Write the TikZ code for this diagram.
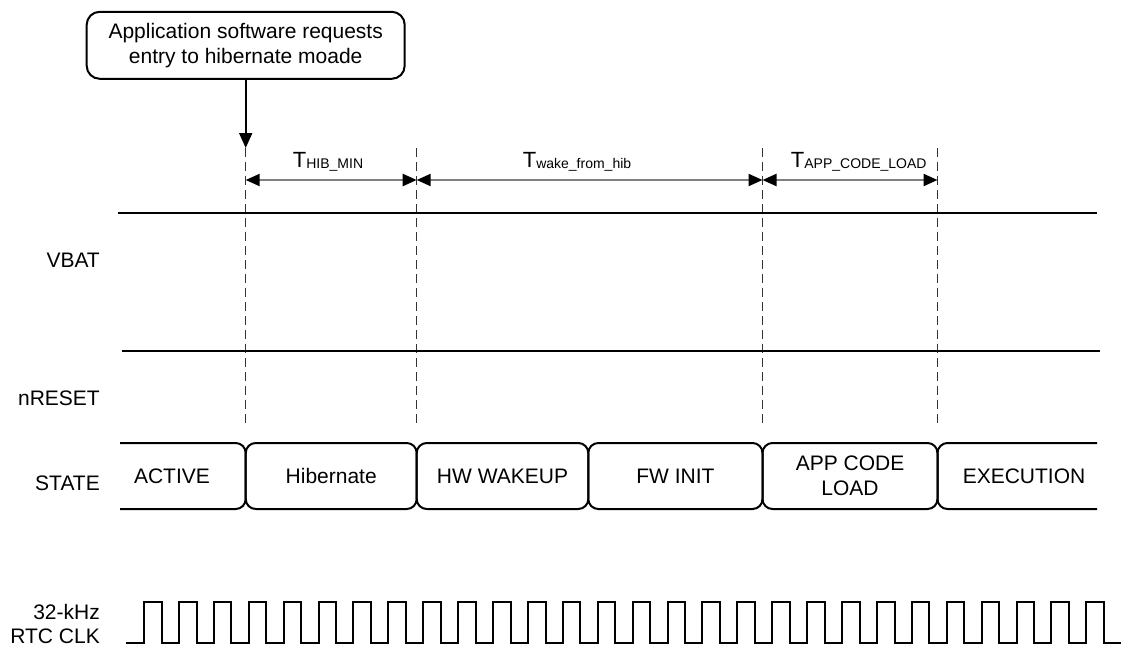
\documentclass[tikz,border=0pt]{standalone}
\usepackage{fontspec}
\setmainfont{Liberation Sans}
\usetikzlibrary{arrows.meta,positioning}

\newcommand{\tname}[1]{T\raisebox{-1.5pt}{\fontsize{14}{16}\selectfont #1}}

\begin{document}
\begin{tikzpicture}[x=1pt,y=-1pt,
  txt/.style={font={\fontsize{21}{25}\selectfont}, inner sep=0pt},
  tlabel/.style={font={\fontsize{22}{26}\selectfont}, inner sep=0pt, anchor=base},
  siglabel/.style={txt, anchor=east, align=right},
  sig/.style={line width=2pt},
  marker/.style={line width=1.3pt, black!80, dash pattern=on 9pt off 5pt},
  statebox/.style={txt, draw, line width=2pt, rounded corners=10pt, minimum height=66pt, outer sep=0pt},
  reqbox/.style={txt, draw, line width=2pt, rounded corners=13pt, minimum width=318pt, minimum height=67pt, align=center},
  dimarrow/.style={line width=2.2pt, gray, {Triangle[length=14pt,width=12pt,color=black]}-{Triangle[length=14pt,width=12pt,color=black]}},
  reqarrow/.style={line width=1.8pt, -{Triangle[length=15pt,width=13pt]}},
  ]
\useasboundingbox (0,0) rectangle (1123,648);

% request callout
\node[reqbox] (req) at (245.7,45.3) {Application software requests\\entry to hibernate moade};

% time markers
\foreach \n/\x in {0/245.7,1/416.7,2/762.5,3/937.5} {
  \coordinate (m\n) at (\x,148);
  \coordinate (b\n) at (\x,425);
  \coordinate (d\n) at (\x,180);
}
\foreach \n in {0,...,3}
  \draw[marker] (m\n) -- (b\n);
\draw[reqarrow] (req.south) -- (m0);

% intervals
\draw[dimarrow] (d0) -- (d1);
\draw[dimarrow] (d1) -- (d2);
\draw[dimarrow] (d2) -- (d3);
\node[tlabel] (thib) at (328,167) {\tname{HIB\_MIN}};
\node[tlabel] (twake) at (577,167) {\tname{wake\_from\_hib}};
\node[tlabel] (tapp) at (858.7,167) {\tname{APP\_CODE\_LOAD}};

% signals
\node[siglabel] (vbat) at (100,260) {VBAT};
\draw[sig] (118,213) -- (1097,213);
\node[siglabel] (nrst) at (100,398) {nRESET};
\draw[sig] (122,351) -- (1100,351);

% states
\node[siglabel] (state) at (100,483) {STATE};
\node[statebox, minimum width=171pt] (hib) at (331.2,476) {Hibernate};
\node[statebox, minimum width=171.6pt, right=0pt of hib] (hwwake) {HW WAKEUP};
\node[statebox, minimum width=174.2pt, right=0pt of hwwake] (fwinit) {FW INIT};
\node[statebox, minimum width=175pt, align=center, right=0pt of fwinit] (appload) {APP CODE\\LOAD};
\draw[sig, rounded corners=10pt] (120,443) -| (hib.south west) -- (120,509);
\draw[sig, rounded corners=10pt] (1097,443) -| (appload.south east) -- (1097,509);
\node[txt] (active) at (172,476) {ACTIVE};
\node[txt] (exec) at (1024,476) {EXECUTION};

% 32 kHz clock
\node[siglabel, font={\fontsize{21}{24}\selectfont}] (clk) at (100,624) {32-kHz\\RTC CLK};
\draw[sig, line join=miter] (126,643) -- (144,643)
  \foreach \k in {1,...,28} { -- ++(0,-41) -- ++(17.6,0) -- ++(0,41) -- ++(17.3,0) };
\end{tikzpicture}
\end{document}
